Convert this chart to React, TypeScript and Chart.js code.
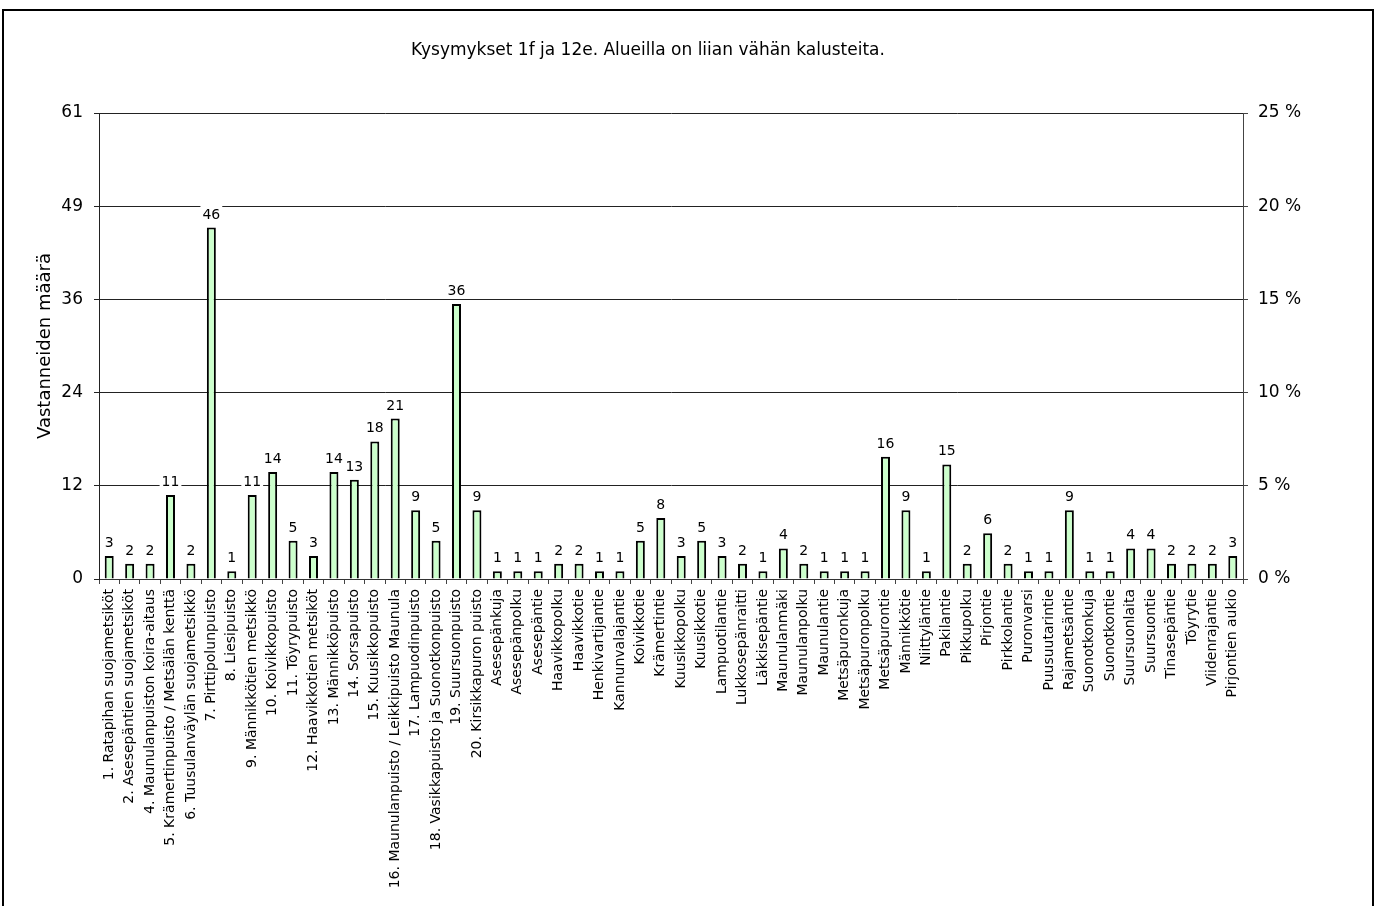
import React, { useEffect, useRef } from 'react';
import { Chart, registerables } from 'chart.js';

Chart.register(...registerables);

const TITLE = 'Kysymykset 1f ja 12e. Alueilla on liian vähän kalusteita.';
const Y_TITLE = 'Vastanneiden määrä';

const CATEGORIES = [
  '1. Ratapihan suojametsiköt',
  '2. Asesepäntien suojametsiköt',
  '4. Maunulanpuiston koira-aitaus',
  '5. Krämertinpuisto / Metsälän kenttä',
  '6. Tuusulanväylän suojametsikkö',
  '7. Pirttipolunpuisto',
  '8. Liesipuisto',
  '9. Männikkötien metsikkö',
  '10. Koivikkopuisto',
  '11. Töyrypuisto',
  '12. Haavikkotien metsiköt',
  '13. Männikköpuisto',
  '14. Sorsapuisto',
  '15. Kuusikkopuisto',
  '16. Maunulanpuisto / Leikkipuisto Maunula',
  '17. Lampuodinpuisto',
  '18. Vasikkapuisto ja Suonotkonpuisto',
  '19. Suursuonpuisto',
  '20. Kirsikkapuron puisto',
  'Asesepänkuja',
  'Asesepänpolku',
  'Asesepäntie',
  'Haavikkopolku',
  'Haavikkotie',
  'Henkivartijantie',
  'Kannunvalajantie',
  'Koivikkotie',
  'Krämertintie',
  'Kuusikkopolku',
  'Kuusikkotie',
  'Lampuotilantie',
  'Lukkosepänraitti',
  'Läkkisepäntie',
  'Maunulanmäki',
  'Maunulanpolku',
  'Maunulantie',
  'Metsäpuronkuja',
  'Metsäpuronpolku',
  'Metsäpurontie',
  'Männikkötie',
  'Niittyläntie',
  'Pakilantie',
  'Pikkupolku',
  'Pirjontie',
  'Pirkkolantie',
  'Puronvarsi',
  'Puusuutarintie',
  'Rajametsäntie',
  'Suonotkonkuja',
  'Suonotkontie',
  'Suursuonlaita',
  'Suursuontie',
  'Tinasepäntie',
  'Töyrytie',
  'Viidenrajantie',
  'Pirjontien aukio',
];

const VALUES = [
  3, 2, 2, 11, 2, 46, 1, 11, 14, 5, 3, 14, 13, 18, 21, 9, 5, 36, 9,
  1, 1, 1, 2, 2, 1, 1, 5, 8, 3, 5, 3, 2, 1, 4, 2, 1, 1, 1, 16, 9, 1, 15, 2, 6, 2, 1, 1, 9, 1, 1, 4, 4, 2, 2, 2, 3,
];

const LEFT_TICK_VALUES = [0, 12.2, 24.4, 36.6, 48.8, 61];
const LEFT_TICK_LABELS = ['0', '12', '24', '36', '49', '61'];
const RIGHT_TICK_VALUES = [0, 5, 10, 15, 20, 25];
const RIGHT_TICK_LABELS = ['0 %', '5 %', '10 %', '15 %', '20 %', '25 %'];

const FONT = '"DejaVu Sans", Verdana, sans-serif';

const W = 1381;
const H = 906;
const PLOT_LEFT = 99;
const PLOT_RIGHT = 1243;
const PLOT_TOP = 113;
const PLOT_BOTTOM = 579;

const decorPlugin = {
  id: 'decor',
  beforeDraw(chart: any) {
    const ctx = chart.ctx;
    ctx.save();
    ctx.fillStyle = '#ffffff';
    ctx.fillRect(0, 0, W, H);
    ctx.strokeStyle = '#000000';
    ctx.lineWidth = 2;
    ctx.beginPath();
    ctx.moveTo(3, H + 10);
    ctx.lineTo(3, 10);
    ctx.lineTo(1373, 10);
    ctx.lineTo(1373, H + 10);
    ctx.stroke();
    ctx.restore();
  },
  afterDraw(chart: any) {
    const ctx = chart.ctx;
    ctx.save();
    ctx.fillStyle = '#000000';
    ctx.font = `17px ${FONT}`;
    ctx.textAlign = 'center';
    ctx.textBaseline = 'middle';
    ctx.fillText(TITLE, 648, 51);
    ctx.translate(45, 346);
    ctx.rotate(-Math.PI / 2);
    ctx.font = `18px ${FONT}`;
    ctx.fillText(Y_TITLE, 0, 0);
    ctx.restore();
  },
};

const valueLabelPlugin = {
  id: 'valueLabels',
  afterDatasetsDraw(chart: any) {
    const ctx = chart.ctx;
    const meta = chart.getDatasetMeta(0);
    ctx.save();
    ctx.font = `14px ${FONT}`;
    ctx.textAlign = 'center';
    ctx.textBaseline = 'alphabetic';
    meta.data.forEach((bar: any, i: number) => {
      const text = String(VALUES[i]);
      const w = ctx.measureText(text).width;
      const x = bar.x;
      const base = bar.y - 9;
      ctx.fillStyle = '#ffffff';
      ctx.fillRect(x - w / 2 - 2, base - 13, w + 4, 15);
      ctx.fillStyle = '#000000';
      ctx.fillText(text, x, base);
    });
    ctx.restore();
  },
};

export default function App() {
  const ref = useRef<HTMLCanvasElement | null>(null);

  useEffect(() => {
    if (!ref.current) return;
    const chart = new Chart(ref.current, {
      type: 'bar',
      data: {
        labels: CATEGORIES,
        datasets: [
          {
            data: VALUES,
            backgroundColor: '#ccffcc',
            borderColor: '#000000',
            borderWidth: 2,
            barPercentage: 0.44,
            categoryPercentage: 1,
            yAxisID: 'y',
          },
        ],
      },
      options: {
        animation: false,
        responsive: false,
        devicePixelRatio: 1,
        layout: { padding: { top: PLOT_TOP, left: 0, right: 0, bottom: 0 } },
        plugins: {
          legend: { display: false },
          title: { display: false },
          tooltip: { enabled: false },
        },
        scales: {
          x: {
            type: 'category',
            grid: {
              offset: true,
              drawOnChartArea: false,
              drawTicks: true,
              tickLength: 5,
              color: '#444444',
            },
            border: { color: '#333333', width: 1 },
            ticks: {
              autoSkip: false,
              minRotation: 90,
              maxRotation: 90,
              padding: 5,
              color: '#000000',
              font: { family: FONT, size: 14 },
            },
            afterFit: (s: any) => {
              s.height = H - PLOT_BOTTOM;
            },
          },
          y: {
            type: 'linear',
            position: 'left',
            min: 0,
            max: 61,
            grid: {
              color: '#222222',
              lineWidth: 1,
              drawTicks: true,
              tickLength: 5,
            },
            border: { color: '#222222', width: 1 },
            ticks: {
              padding: 11,
              color: '#000000',
              font: { family: FONT, size: 17 },
              callback: (_v: any, i: number) => LEFT_TICK_LABELS[i],
            },
            afterBuildTicks: (s: any) => {
              s.ticks = LEFT_TICK_VALUES.map((v) => ({ value: v }));
            },
            afterFit: (s: any) => {
              s.width = PLOT_LEFT;
            },
          },
          y1: {
            type: 'linear',
            position: 'right',
            min: 0,
            max: 25,
            grid: {
              drawOnChartArea: false,
              drawTicks: true,
              tickLength: 5,
              color: '#444444',
            },
            border: { color: '#444444', width: 1 },
            ticks: {
              padding: 10,
              color: '#000000',
              font: { family: FONT, size: 17 },
              callback: (_v: any, i: number) => RIGHT_TICK_LABELS[i],
            },
            afterBuildTicks: (s: any) => {
              s.ticks = RIGHT_TICK_VALUES.map((v) => ({ value: v }));
            },
            afterFit: (s: any) => {
              s.width = W - PLOT_RIGHT;
            },
          },
        },
      },
      plugins: [decorPlugin, valueLabelPlugin],
    });
    return () => chart.destroy();
  }, []);

  return (
    <div style={{ position: 'absolute', left: 0, top: 0, width: W, height: H }}>
      <canvas ref={ref} width={W} height={H} style={{ display: 'block', width: W, height: H }} />
    </div>
  );
}
